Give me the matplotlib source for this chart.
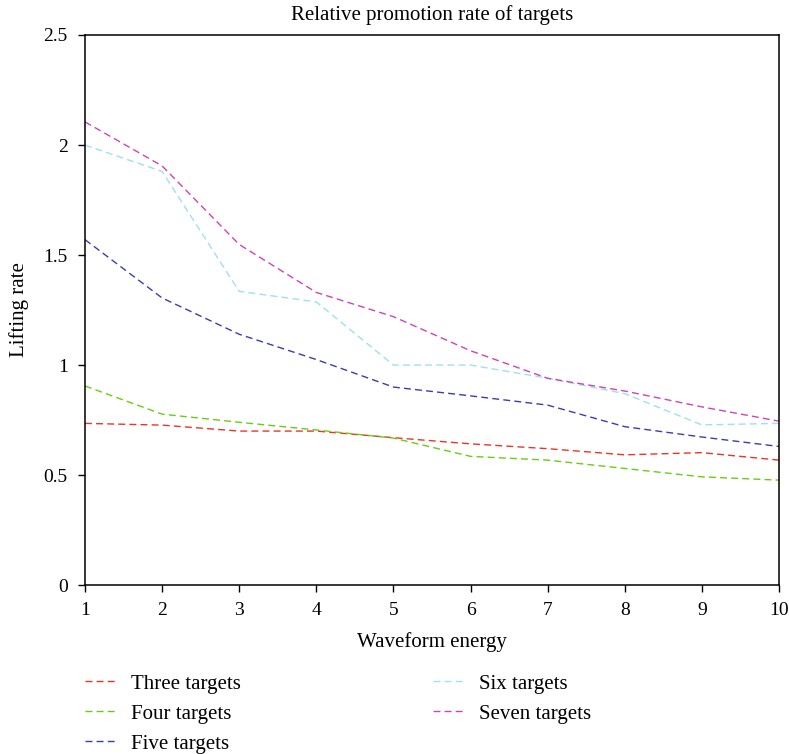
import numpy as np
import matplotlib
matplotlib.use("Agg")
import matplotlib.pyplot as plt

plt.rcParams['font.family'] = ['Liberation Serif', 'DejaVu Serif']

# data
energy = [1, 2, 3, 4, 5, 6, 7, 8, 9, 10]
three = [0.735, 0.727, 0.700, 0.700, 0.670, 0.642, 0.620, 0.592, 0.602, 0.568]
four = [0.905, 0.777, 0.740, 0.705, 0.668, 0.585, 0.568, 0.530, 0.492, 0.477]
five = [1.570, 1.305, 1.140, 1.025, 0.900, 0.860, 0.818, 0.720, 0.673, 0.630]
six = [2.000, 1.880, 1.335, 1.287, 1.000, 1.000, 0.940, 0.870, 0.728, 0.735]
seven = [2.105, 1.905, 1.548, 1.330, 1.220, 1.065, 0.940, 0.882, 0.810, 0.745]

labels = ["Three targets", "Four targets", "Five targets", "Six targets", "Seven targets"]
colors = ["#e8352b", "#6ccc10", "#3c3cb0", "#9fe0ee", "#cc44b8"]

fig = plt.figure(figsize=(7.89, 7.54), dpi=100)
ax = fig.add_axes([0.1077, 0.224, 0.8796, 0.7296])

for ys, lab, c in zip([three, four, five, six, seven], labels, colors):
    ax.plot(energy, ys, linestyle=(0, (5, 3)), color=c, lw=1.0, label=lab)

ax.set_xlim(1, 10)
ax.set_ylim(0, 2.5)
ax.set_xticks(energy)
ax.set_yticks([0, 0.5, 1, 1.5, 2, 2.5])
ax.set_yticklabels(["0", "0.5", "1", "1.5", "2", "2.5"])
ax.tick_params(direction='out', length=5, width=1, labelsize=14, pad=7.5)
for s in ax.spines.values():
    s.set_linewidth(1.1)

ax.set_title("Relative promotion rate of targets", fontsize=15, pad=10.5)
ax.set_xlabel("Waveform energy", fontsize=15, labelpad=9)
ax.set_ylabel("Lifting rate", fontsize=15, labelpad=10)

# legend: three rows, two columns, no frame
handles, labs = ax.get_legend_handles_labels()
leg = fig.legend(handles, labs,
                 loc='upper left', bbox_to_anchor=(0.1077, 0.106), ncol=2,
                 frameon=False, fontsize=15, handlelength=1.55,
                 columnspacing=9.2, labelspacing=0.5, handletextpad=0.66,
                 borderpad=0, borderaxespad=0)

fig.savefig("out.png", dpi=100)
